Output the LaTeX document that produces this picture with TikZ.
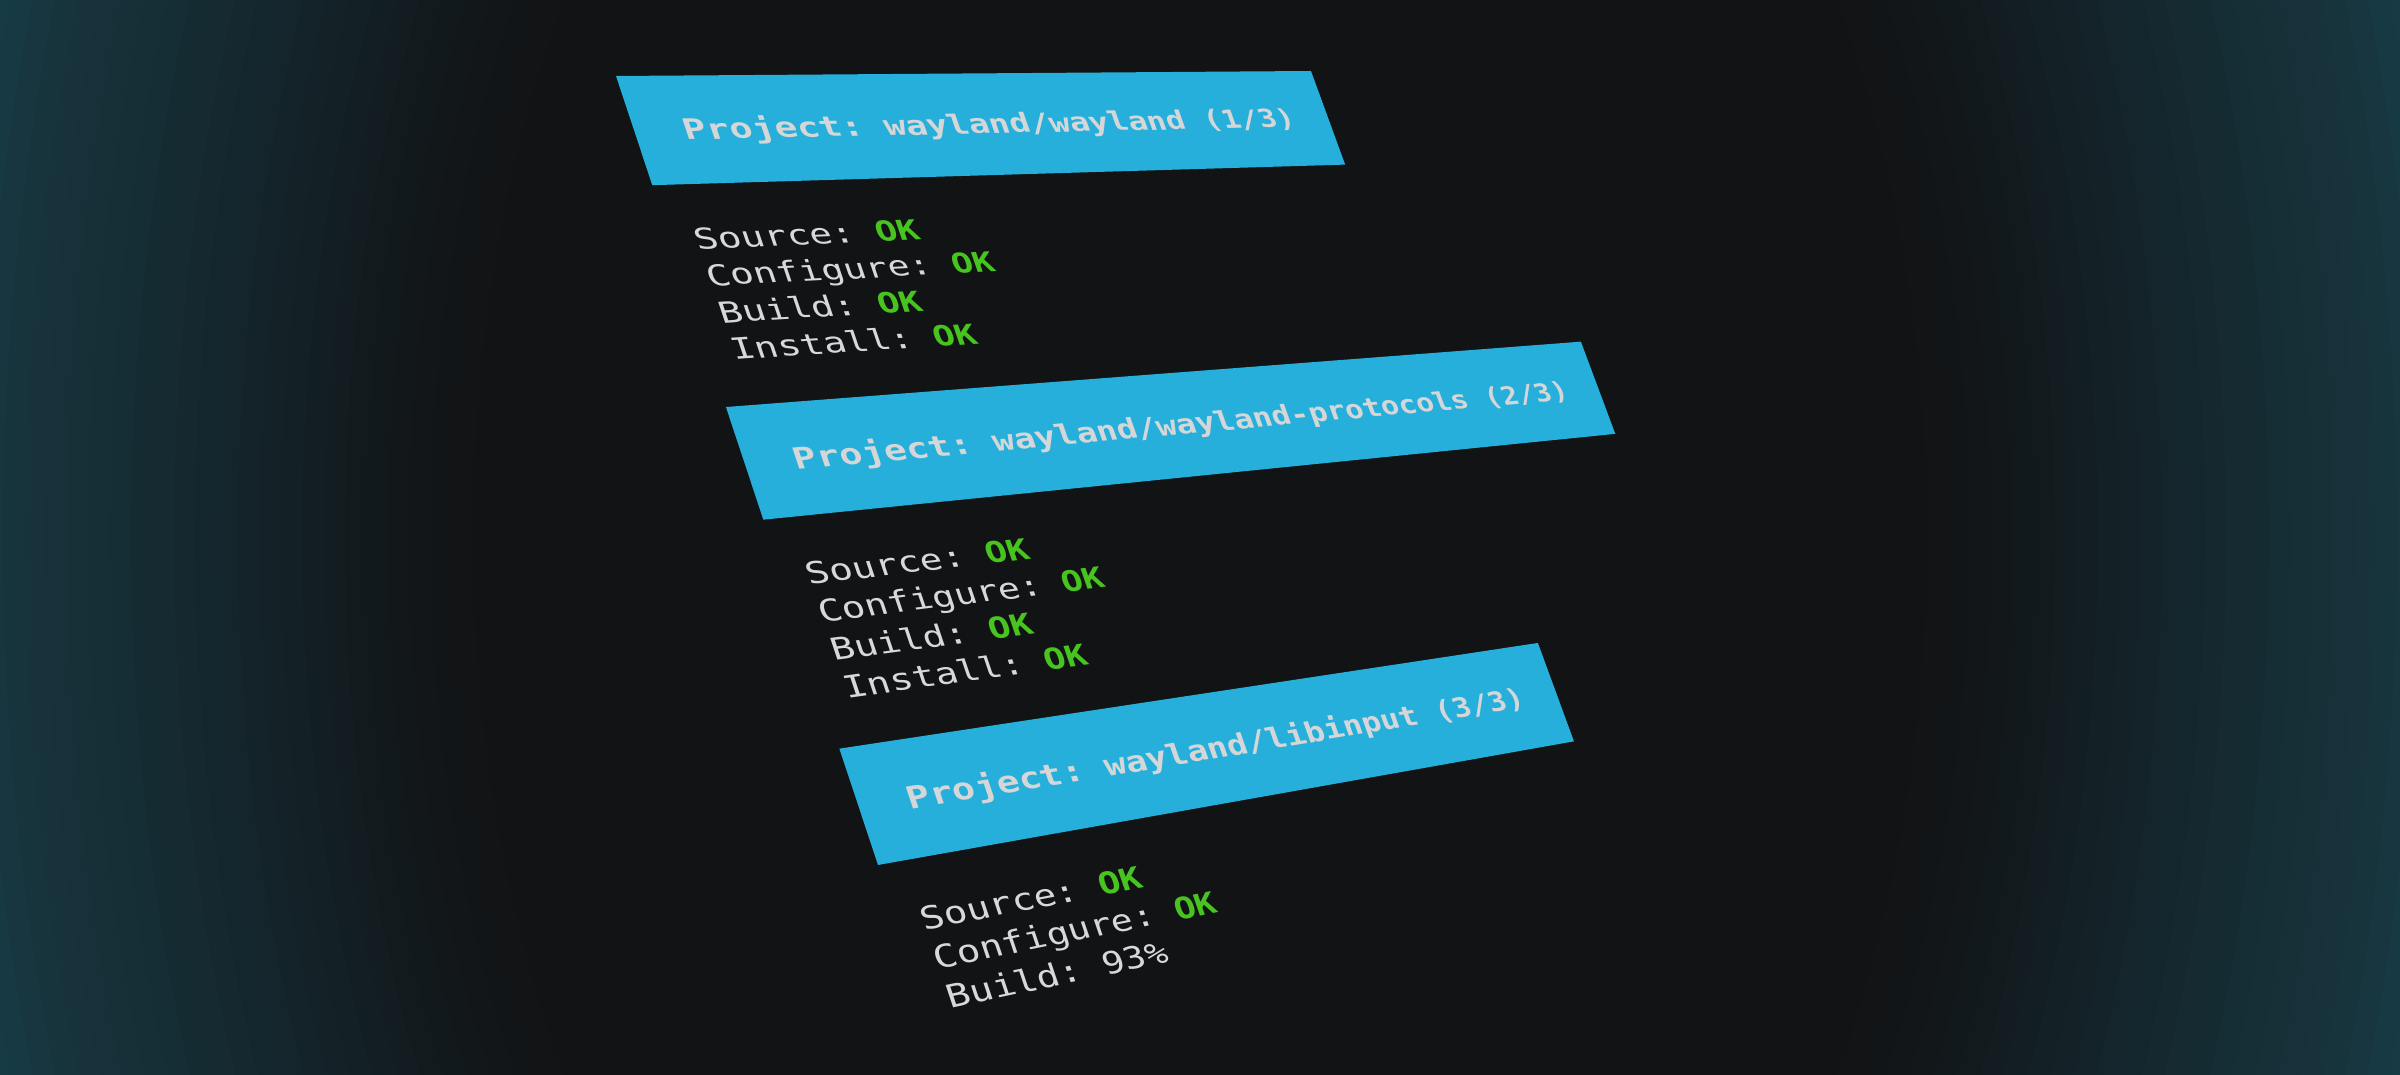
\documentclass[tikz,border=0pt]{standalone}
\usepackage{fontspec}
\setmonofont{DejaVu Sans Mono}
\definecolor{bgc}{RGB}{18,19,21}
\definecolor{edgec}{RGB}{22,59,70}
\definecolor{bandc}{RGB}{38,175,218}
\definecolor{hdrc}{RGB}{212,214,216}
\definecolor{bodyc}{RGB}{216,216,216}
\definecolor{okc}{RGB}{72,196,32}
\tikzset{
  glyph/.style={transform shape, anchor=base west, inner sep=0pt, outer sep=0pt},
  hdrtxt/.style={font=\fontsize{10}{12}\selectfont\ttfamily\bfseries, text=hdrc},
  bodytxt/.style={font=\fontsize{10}{12}\selectfont\ttfamily, text=bodyc},
  oktxt/.style={font=\fontsize{10}{12}\selectfont\ttfamily\bfseries, text=okc},
  bandfill/.style={fill=bandc}
}
\ExplSyntaxOn
\fp_new:N \l_rs_D_fp
\fp_new:N \l_rs_x_fp
\fp_new:N \l_rs_y_fp
\tl_new:N \l_rs_X_tl
\tl_new:N \l_rs_Y_tl
\tl_new:N \l_rs_a_tl
\tl_new:N \l_rs_b_tl
\tl_new:N \l_rs_c_tl
\tl_new:N \l_rs_d_tl
\int_new:N \l_rs_col_int
\seq_new:N \l_rs_words_seq
% homography: terminal grid (column, row) -> picture pixels
\cs_new_protected:Npn \rs_point:nn #1#2
  {
    \fp_set:Nn \l_rs_D_fp { 1 + 0.004859 * (#1) - 0.001727 * (#2) }
    \fp_set:Nn \l_rs_x_fp { ( 616 + 26.81 * (#1) + 10.96 * (#2) ) / \l_rs_D_fp }
    \fp_set:Nn \l_rs_y_fp { ( 76 + 0.198 * (#1) + 36.077 * (#2) ) / \l_rs_D_fp }
    \tl_set:Nx \l_rs_X_tl { \fp_to_decimal:n { round( \l_rs_x_fp , 3 ) } pt }
    \tl_set:Nx \l_rs_Y_tl { \fp_to_decimal:n { round( 1074 - \l_rs_y_fp , 3 ) } pt }
  }
\cs_new_protected:Npn \rs_glyph:nnnn #1#2#3#4
  {
    \rs_point:nn {#1} {#2}
    \tl_set:Nx \l_rs_a_tl { \fp_to_decimal:n { round( ( 26.81 - 0.004859 * \l_rs_x_fp ) / \l_rs_D_fp / 6.0205 , 5 ) } }
    \tl_set:Nx \l_rs_b_tl { \fp_to_decimal:n { round( - ( 0.198 - 0.004859 * \l_rs_y_fp ) / \l_rs_D_fp / 6.0205 , 5 ) } }
    \tl_set:Nx \l_rs_c_tl { \fp_to_decimal:n { round( - 0.078 * ( 10.96 + 0.001727 * \l_rs_x_fp ) / \l_rs_D_fp , 5 ) } }
    \tl_set:Nx \l_rs_d_tl { \fp_to_decimal:n { round( 0.078 * ( 36.077 + 0.001727 * \l_rs_y_fp ) / \l_rs_D_fp , 5 ) } }
    \begin{scope}[cm={\l_rs_a_tl,\l_rs_b_tl,\l_rs_c_tl,\l_rs_d_tl,(\l_rs_X_tl,\l_rs_Y_tl)}]
      \node[glyph,#3] ~ at ~ (0,0) ~ {#4};
    \end{scope}
  }
\NewDocumentCommand \tline { m m m m }
  {
    \seq_set_split:Nnn \l_rs_words_seq { ~ } {#4}
    \int_zero:N \l_rs_col_int
    \seq_map_inline:Nn \l_rs_words_seq
      {
        \tl_map_inline:nn {##1}
          {
            \rs_glyph:nnnn { (#1) + \int_use:N \l_rs_col_int } {#2} {#3} {####1}
            \int_incr:N \l_rs_col_int
          }
        \int_incr:N \l_rs_col_int
      }
  }
\NewDocumentCommand \hcoord { m m m }
  {
    \rs_point:nn {#2} {#3}
    \coordinate ~ (#1) ~ at ~ (\l_rs_X_tl,\l_rs_Y_tl);
  }
\ExplSyntaxOff
\begin{document}
\begin{tikzpicture}[x=1pt,y=1pt]
\useasboundingbox (0,0) rectangle (2400,1074);
% background with teal vignette (nested elliptical rings)
\begin{scope}
  \clip (0,0) rectangle (2400,1074);
  \fill[edgec] (0,0) rectangle (2400,1074);
  \foreach \rr/\cr/\cg/\cb in {1.47/22/59/70, 1.45/22/57/67, 1.425/23/54/64, 1.40/23/52/61,
      1.375/23/50/59, 1.35/22/49/57, 1.325/22/48/56, 1.30/22/46/54, 1.275/21/45/52,
      1.25/21/43/50, 1.225/21/42/49, 1.20/21/40/47, 1.175/20/38/45, 1.15/20/37/43,
      1.125/20/35/41, 1.10/20/33/39, 1.075/19/32/37, 1.05/19/30/35, 1.025/19/28/33,
      1.00/19/26/30, 0.975/18/25/28, 0.95/18/23/25, 0.925/18/22/24, 0.90/18/21/23,
      0.875/18/20/22, 0.85/18/19/21}{
    \definecolor{ringc}{RGB}{\cr,\cg,\cb}
    \fill[ringc] (1200,537) ellipse [x radius={855*\rr}, y radius={1311*\rr}];
  }
\end{scope}
% band corners (terminal grid: column, row)
\hcoord{b1tl}{0}{0}\hcoord{b1tr}{34}{0}\hcoord{b1br}{34}{3}\hcoord{b1bl}{0}{3}
\hcoord{b2tl}{0}{9}\hcoord{b2tr}{44}{9}\hcoord{b2br}{44}{12}\hcoord{b2bl}{0}{12}
\hcoord{b3tl}{0}{18}\hcoord{b3tr}{35}{18}\hcoord{b3br}{35}{21}\hcoord{b3bl}{0}{21}
\fill[bandfill] (b1tl) -- (b1tr) -- (b1br) -- (b1bl) -- cycle;
\fill[bandfill] (b2tl) -- (b2tr) -- (b2br) -- (b2bl) -- cycle;
\fill[bandfill] (b3tl) -- (b3tr) -- (b3br) -- (b3bl) -- cycle;
% headers
\tline{2.07}{1.78}{hdrtxt}{Project: wayland/wayland (1/3)}
\tline{2.07}{10.78}{hdrtxt}{Project: wayland/wayland-protocols (2/3)}
\tline{2.07}{19.78}{hdrtxt}{Project: wayland/libinput (3/3)}
% block 1
\tline{1.0}{4.78}{bodytxt}{Source:}\tline{9.0}{4.78}{oktxt}{OK}
\tline{1.0}{5.78}{bodytxt}{Configure:}\tline{12.0}{5.78}{oktxt}{OK}
\tline{1.0}{6.78}{bodytxt}{Build:}\tline{8.0}{6.78}{oktxt}{OK}
\tline{1.0}{7.78}{bodytxt}{Install:}\tline{10.0}{7.78}{oktxt}{OK}
% block 2
\tline{1.0}{13.78}{bodytxt}{Source:}\tline{9.0}{13.78}{oktxt}{OK}
\tline{1.0}{14.78}{bodytxt}{Configure:}\tline{12.0}{14.78}{oktxt}{OK}
\tline{1.0}{15.78}{bodytxt}{Build:}\tline{8.0}{15.78}{oktxt}{OK}
\tline{1.0}{16.78}{bodytxt}{Install:}\tline{10.0}{16.78}{oktxt}{OK}
% block 3
\tline{1.0}{22.78}{bodytxt}{Source:}\tline{9.0}{22.78}{oktxt}{OK}
\tline{1.0}{23.78}{bodytxt}{Configure:}\tline{12.0}{23.78}{oktxt}{OK}
\tline{1.0}{24.78}{bodytxt}{Build:}\tline{8.0}{24.78}{bodytxt}{93\%}
\end{tikzpicture}
\end{document}
